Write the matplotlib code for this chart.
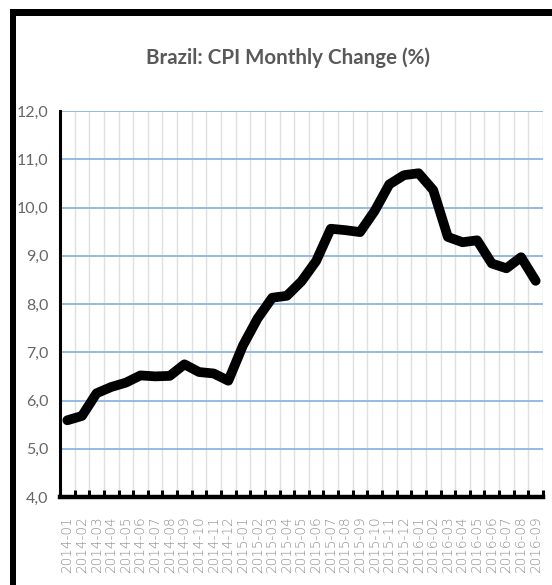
import matplotlib
matplotlib.use("Agg")
import matplotlib.pyplot as plt
from matplotlib.patches import Rectangle
import numpy as np

months = ["2014-01","2014-02","2014-03","2014-04","2014-05","2014-06","2014-07","2014-08",
          "2014-09","2014-10","2014-11","2014-12","2015-01","2015-02","2015-03","2015-04",
          "2015-05","2015-06","2015-07","2015-08","2015-09","2015-10","2015-11","2015-12",
          "2016-01","2016-02","2016-03","2016-04","2016-05","2016-06","2016-07","2016-08",
          "2016-09"]
cpi = [5.59, 5.68, 6.15, 6.28, 6.37, 6.52, 6.50, 6.51, 6.75, 6.59, 6.56, 6.41,
       7.14, 7.70, 8.13, 8.17, 8.47, 8.89, 9.56, 9.53, 9.49, 9.93, 10.48, 10.67,
       10.71, 10.36, 9.39, 9.28, 9.32, 8.84, 8.74, 8.97, 8.48]
yticks = [4, 5, 6, 7, 8, 9, 10, 11, 12]
title = "Brazil: CPI Monthly Change (%)"

W, H = 552, 585
fig = plt.figure(figsize=(W/100, H/100), dpi=100)
fig.patch.set_facecolor("white")

ax = fig.add_axes([60/W, 1-497/H, (543-60)/W, (497-111)/H])
x = np.arange(len(months))
ax.plot(x, cpi, color="black", lw=7, solid_joinstyle="round", solid_capstyle="round", zorder=5)

ax.set_xlim(-0.5, len(months)-0.5)
ax.set_ylim(4, 12)
ax.set_yticks(yticks)
ax.set_yticklabels([f"{v:.1f}".replace(".", ",") for v in yticks],
                   fontfamily="Lato", fontsize=11.5, color="#666666")
ax.set_xticks(x)
ax.set_xticklabels(months, rotation=90, fontsize=9.8, color="#8c8c8c", fontfamily="DejaVu Sans",
                   fontweight="light")
ax.set_xticks(np.arange(-0.5, len(months), 1.0), minor=True)
ax.tick_params(axis="x", which="major", length=0, pad=14)
ax.tick_params(axis="x", which="minor", direction="in", length=5, width=2.2, color="black")
ax.tick_params(axis="y", length=0, pad=8.5)

ax.grid(axis="y", which="major", color="#8db4e2", lw=1.3, zorder=1)
ax.grid(axis="x", which="minor", color="#e0e0e0", lw=1.0, zorder=0)
ax.grid(axis="x", which="major", visible=False)

for s in ["top", "right"]:
    ax.spines[s].set_visible(False)
ax.spines["left"].set_linewidth(2.2)
ax.spines["bottom"].set_linewidth(3.2)
ax.spines["left"].set_zorder(6)
ax.spines["bottom"].set_zorder(6)

fig.text(288/W, 1-58/H, title, ha="center", va="center", fontsize=14.8, fontweight="bold",
         color="#595959", fontfamily="Lato")

# frame border (top and left)
fig.add_artist(Rectangle((10/W, 1-16/H), 1-10/W, 7/H, transform=fig.transFigure,
                         facecolor="black", edgecolor="none"))
fig.add_artist(Rectangle((10/W, 0), 6/W, 1-9/H, transform=fig.transFigure,
                         facecolor="black", edgecolor="none"))

fig.savefig("out.png", dpi=100)
